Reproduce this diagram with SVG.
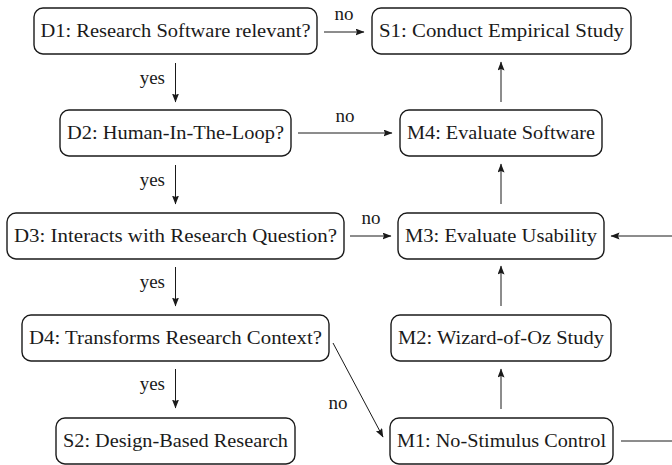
<svg xmlns="http://www.w3.org/2000/svg" width="672" height="465" viewBox="0 0 672 465">
<style>
  .box { fill: #ffffff; stroke: #1a1a1a; stroke-width: 1.4; }
  .conn { stroke: #1a1a1a; stroke-width: 1; fill: none; }
</style>
<defs>
  <marker id="arr" markerUnits="userSpaceOnUse" markerWidth="10" markerHeight="8" refX="8.5" refY="3.5" orient="auto">
    <path d="M0,0 L9,3.5 L0,7 L1.5,3.5 z" fill="#1a1a1a"/>
  </marker>
</defs>
<rect width="672" height="465" fill="#ffffff"/>

<g id="D1"><rect class="box" x="34" y="8" width="283" height="46" rx="9"/><text x="175.5" y="37" text-anchor="middle" fill="#1a1a1a" style="font-family: 'Liberation Serif', serif; font-size: 19px" textLength="270" lengthAdjust="spacingAndGlyphs">D1: Research Software relevant?</text></g>
<g id="S1"><rect class="box" x="372" y="8" width="259" height="46" rx="9"/><text x="501.5" y="37" text-anchor="middle" fill="#1a1a1a" style="font-family: 'Liberation Serif', serif; font-size: 19px" textLength="245" lengthAdjust="spacingAndGlyphs">S1: Conduct Empirical Study</text></g>
<g id="D2"><rect class="box" x="60" y="110" width="231" height="46" rx="9"/><text x="175.5" y="139" text-anchor="middle" fill="#1a1a1a" style="font-family: 'Liberation Serif', serif; font-size: 19px" textLength="217" lengthAdjust="spacingAndGlyphs">D2: Human-In-The-Loop?</text></g>
<g id="M4"><rect class="box" x="400" y="110" width="202" height="46" rx="9"/><text x="501" y="139" text-anchor="middle" fill="#1a1a1a" style="font-family: 'Liberation Serif', serif; font-size: 19px" textLength="188" lengthAdjust="spacingAndGlyphs">M4: Evaluate Software</text></g>
<g id="D3"><rect class="box" x="7" y="213" width="337" height="46" rx="9"/><text x="175.5" y="242" text-anchor="middle" fill="#1a1a1a" style="font-family: 'Liberation Serif', serif; font-size: 19px" textLength="323" lengthAdjust="spacingAndGlyphs">D3: Interacts with Research Question?</text></g>
<g id="M3"><rect class="box" x="398" y="213" width="206" height="46" rx="9"/><text x="501" y="242" text-anchor="middle" fill="#1a1a1a" style="font-family: 'Liberation Serif', serif; font-size: 19px" textLength="192" lengthAdjust="spacingAndGlyphs">M3: Evaluate Usability</text></g>
<g id="D4"><rect class="box" x="22" y="315" width="307" height="46" rx="9"/><text x="175.5" y="344" text-anchor="middle" fill="#1a1a1a" style="font-family: 'Liberation Serif', serif; font-size: 19px" textLength="293" lengthAdjust="spacingAndGlyphs">D4: Transforms Research Context?</text></g>
<g id="M2"><rect class="box" x="391" y="315" width="220" height="46" rx="9"/><text x="501" y="344" text-anchor="middle" fill="#1a1a1a" style="font-family: 'Liberation Serif', serif; font-size: 19px" textLength="206" lengthAdjust="spacingAndGlyphs">M2: Wizard-of-Oz Study</text></g>
<g id="S2"><rect class="box" x="56" y="418" width="239" height="46" rx="9"/><text x="175.5" y="447" text-anchor="middle" fill="#1a1a1a" style="font-family: 'Liberation Serif', serif; font-size: 19px" textLength="225" lengthAdjust="spacingAndGlyphs">S2: Design-Based Research</text></g>
<g id="M1"><rect class="box" x="390" y="418" width="223" height="46" rx="9"/><text x="501.5" y="447" text-anchor="middle" fill="#1a1a1a" style="font-family: 'Liberation Serif', serif; font-size: 19px" textLength="209" lengthAdjust="spacingAndGlyphs">M1: No-Stimulus Control</text></g>

<g id="connectors">
  <line class="conn" x1="324" y1="32" x2="364" y2="32" marker-end="url(#arr)"/>
  <text x="344" y="20" text-anchor="middle" fill="#1a1a1a" style="font-family: 'Liberation Serif', serif; font-size: 19px">no</text>
  <line class="conn" x1="175.5" y1="63" x2="175.5" y2="102" marker-end="url(#arr)"/>
  <text x="165" y="84" text-anchor="end" fill="#1a1a1a" style="font-family: 'Liberation Serif', serif; font-size: 19px">yes</text>
  <line class="conn" x1="298" y1="133" x2="392" y2="133" marker-end="url(#arr)"/>
  <text x="345" y="122" text-anchor="middle" fill="#1a1a1a" style="font-family: 'Liberation Serif', serif; font-size: 19px">no</text>
  <line class="conn" x1="501" y1="102" x2="501" y2="62" marker-end="url(#arr)"/>
  <line class="conn" x1="175.5" y1="165" x2="175.5" y2="204" marker-end="url(#arr)"/>
  <text x="165" y="186" text-anchor="end" fill="#1a1a1a" style="font-family: 'Liberation Serif', serif; font-size: 19px">yes</text>
  <line class="conn" x1="350" y1="236" x2="391" y2="236" marker-end="url(#arr)"/>
  <text x="371" y="224" text-anchor="middle" fill="#1a1a1a" style="font-family: 'Liberation Serif', serif; font-size: 19px">no</text>
  <line class="conn" x1="501" y1="204" x2="501" y2="164" marker-end="url(#arr)"/>
  <line class="conn" x1="672" y1="236" x2="611" y2="236" marker-end="url(#arr)"/>
  <line class="conn" x1="175.5" y1="267" x2="175.5" y2="306" marker-end="url(#arr)"/>
  <text x="165" y="288" text-anchor="end" fill="#1a1a1a" style="font-family: 'Liberation Serif', serif; font-size: 19px">yes</text>
  <line class="conn" x1="501" y1="306" x2="501" y2="266" marker-end="url(#arr)"/>
  <line class="conn" x1="175.5" y1="369" x2="175.5" y2="408" marker-end="url(#arr)"/>
  <text x="165" y="390" text-anchor="end" fill="#1a1a1a" style="font-family: 'Liberation Serif', serif; font-size: 19px">yes</text>
  <line class="conn" x1="333" y1="343" x2="383" y2="437" marker-end="url(#arr)"/>
  <text x="338" y="409" text-anchor="middle" fill="#1a1a1a" style="font-family: 'Liberation Serif', serif; font-size: 19px">no</text>
  <line class="conn" x1="501" y1="409" x2="501" y2="369" marker-end="url(#arr)"/>
  <line class="conn" x1="621" y1="441" x2="672" y2="441"/>
</g>
</svg>
